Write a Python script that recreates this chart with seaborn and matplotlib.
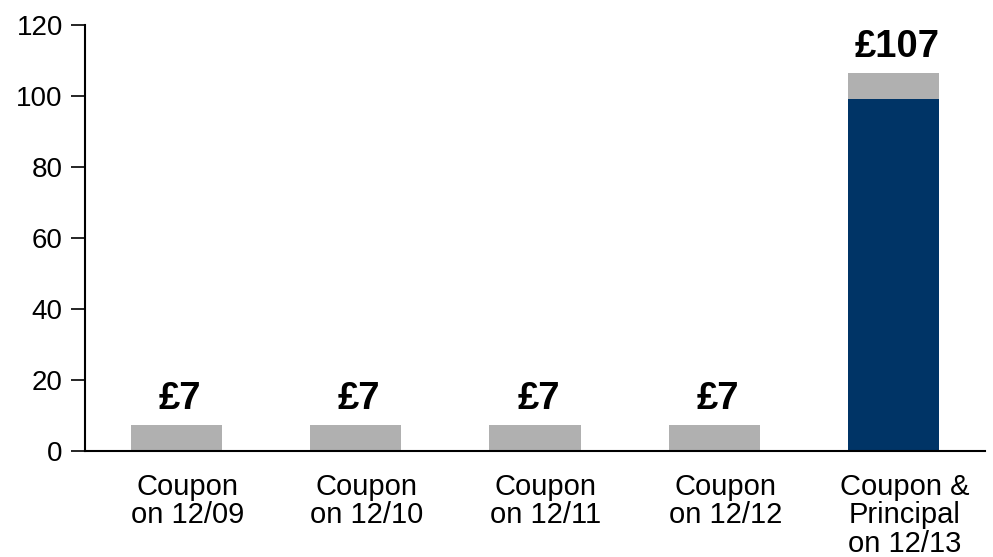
import matplotlib
matplotlib.use("Agg")
import matplotlib.pyplot as plt
import matplotlib.transforms as mtransforms
import seaborn as sns
import pandas as pd

categories = ["Coupon\non 12/09", "Coupon\non 12/10", "Coupon\non 12/11",
              "Coupon\non 12/12", "Coupon &\nPrincipal\non 12/13"]
coupon = [7.3, 7.3, 7.3, 7.3, 7.3]
principal = [0, 0, 0, 0, 99.2]
value_labels = ["£7", "£7", "£7", "£7", "£107"]
yticks = [0, 20, 40, 60, 80, 100, 120]

sns.set_style("white")
plt.rcParams['font.family'] = ['Liberation Sans', 'DejaVu Sans']

df = pd.DataFrame({"cat": categories,
                   "total": [c + p for c, p in zip(coupon, principal)],
                   "principal": principal})

fig = plt.figure(figsize=(9.93, 5.57), dpi=100)
ax = fig.add_axes([85/993, 1-451/557, 900/993, 426/557])

sns.barplot(data=df, x="cat", y="total", color="#B0B0B0", saturation=1,
            width=0.51, linewidth=0, ax=ax)
sns.barplot(data=df, x="cat", y="principal", color="#003466", saturation=1,
            width=0.51, linewidth=0, ax=ax)

for i, (t, lab) in enumerate(zip(df["total"], value_labels)):
    ax.text(i + 0.02, t + 4.6, lab, ha="center", va="baseline",
            fontsize=27.5, fontweight="bold", color="black")

ax.set_xlim(-0.51, 4.51)
ax.set_ylim(0, 120)
ax.set_yticks(yticks)
ax.set_yticklabels([str(v) for v in yticks])
ax.set_xlabel("")
ax.set_ylabel("")
for s in ["top", "right"]:
    ax.spines[s].set_visible(False)
for s in ["left", "bottom"]:
    ax.spines[s].set_color("black")
    ax.spines[s].set_linewidth(1.5)
ax.tick_params(axis="y", left=True, length=10, width=1.2, labelsize=20, pad=6, colors="black")
ax.tick_params(axis="x", bottom=False, labelsize=21, pad=12, colors="black")
offset = mtransforms.ScaledTranslation(11/100, 0, fig.dpi_scale_trans)
for lbl in ax.get_xticklabels():
    lbl.set_linespacing(1.03)
    lbl.set_transform(lbl.get_transform() + offset)

fig.savefig("out.png", dpi=100)
